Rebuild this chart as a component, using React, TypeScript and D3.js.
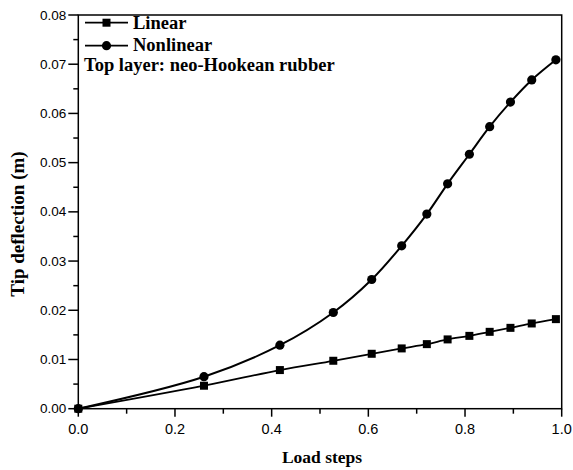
import React from "react";
import * as d3 from "d3";

const loadSteps = [0.0, 0.26, 0.417, 0.5275, 0.607, 0.669, 0.721, 0.764, 0.809, 0.851, 0.894, 0.938, 0.988];
const linearDeflection = [0.0, 0.00467, 0.00785, 0.00974, 0.01116, 0.01225, 0.01312, 0.01408, 0.0148, 0.01562, 0.01643, 0.01732, 0.0182];
const nonlinearLoadSteps = [0.0, 0.26, 0.417, 0.5275, 0.607, 0.669, 0.721, 0.764, 0.809, 0.851, 0.894, 0.938, 0.988];
const nonlinearDeflection = [0.0, 0.0065, 0.0129, 0.01955, 0.02625, 0.0331, 0.03955, 0.0457, 0.0517, 0.0573, 0.0623, 0.0668, 0.0709];
const xTicks = [0, 0.2, 0.4, 0.6, 0.8, 1.0];
const xMinorTicks = [0.1, 0.3, 0.5, 0.7, 0.9];
const yTicks = [0, 0.01, 0.02, 0.03, 0.04, 0.05, 0.06, 0.07, 0.08];
const yMinorTicks = [0.005, 0.015, 0.025, 0.035, 0.045, 0.055, 0.065, 0.075];

const W = 573, H = 470;
const L = 78.3, R = 561.7, T = 15, B = 408.7;

export default function App() {
  const x = d3.scaleLinear().domain([0, 1]).range([L, R]);
  const y = d3.scaleLinear().domain([0, 0.08]).range([B, T]);
  const line = d3.line<[number, number]>().x(d => x(d[0])).y(d => y(d[1])).curve(d3.curveCatmullRom.alpha(0.5));
  const linPts: [number, number][] = loadSteps.map((s, i) => [s, linearDeflection[i]]);
  const nonPts: [number, number][] = nonlinearLoadSteps.map((s, i) => [s, nonlinearDeflection[i]]);
  const sans = "'Liberation Sans', Arial, sans-serif";
  const serif = "'Liberation Serif', 'Times New Roman', serif";
  return (
    <svg width={W} height={H} style={{ position: "absolute", left: 0, top: 0, background: "#fff" }}>
      <rect x={0} y={0} width={W} height={H} fill="#fff" />
      {/* curves */}
      <path d={line(nonPts) || ""} fill="none" stroke="#000" strokeWidth={2} />
      <path d={line(linPts) || ""} fill="none" stroke="#000" strokeWidth={1.8} />
      {nonPts.map((p, i) => (
        <circle key={"c" + i} cx={x(p[0])} cy={y(p[1])} r={4.6} fill="#000" />
      ))}
      {linPts.map((p, i) => (
        <rect key={"s" + i} x={x(p[0]) - 4} y={y(p[1]) - 4} width={8} height={8} fill="#000" />
      ))}
      {/* frame */}
      <rect x={L} y={T} width={R - L} height={B - T} fill="none" stroke="#000" strokeWidth={1.5} />
      {/* x ticks */}
      {xTicks.map(t => (
        <g key={"xt" + t}>
          <line x1={x(t)} x2={x(t)} y1={B} y2={B + 8} stroke="#000" strokeWidth={1.5} />
          <text x={x(t)} y={B + 25} textAnchor="middle" fontFamily={sans} fontSize={14.5}>{t.toFixed(1)}</text>
        </g>
      ))}
      {xMinorTicks.map(t => (
        <line key={"xm" + t} x1={x(t)} x2={x(t)} y1={B} y2={B + 5} stroke="#000" strokeWidth={1.5} />
      ))}
      {/* y ticks */}
      {yTicks.map(t => (
        <g key={"yt" + t}>
          <line x1={L - 10} x2={L} y1={y(t)} y2={y(t)} stroke="#000" strokeWidth={1.5} />
          <text x={L - 12} y={y(t) + 4.5} textAnchor="end" fontFamily={sans} fontSize={13.5}>{t.toFixed(2)}</text>
        </g>
      ))}
      {yMinorTicks.map(t => (
        <line key={"ym" + t} x1={L - 5} x2={L} y1={y(t)} y2={y(t)} stroke="#000" strokeWidth={1.5} />
      ))}
      {/* axis titles */}
      <text x={322} y={463} textAnchor="middle" fontFamily={serif} fontWeight="bold" fontSize={17.5}>Load steps</text>
      <text transform={`translate(24,224) rotate(-90)`} textAnchor="middle" fontFamily={serif} fontWeight="bold" fontSize={19}>Tip deflection (m)</text>
      {/* legend */}
      <g>
        <line x1={85} x2={128} y1={22.7} y2={22.7} stroke="#000" strokeWidth={1.8} />
        <rect x={106.5 - 4} y={22.7 - 4} width={8} height={8} fill="#000" />
        <text x={133} y={28.5} fontFamily={serif} fontWeight="bold" fontSize={18.5}>Linear</text>
        <line x1={85} x2={128} y1={45.7} y2={45.7} stroke="#000" strokeWidth={1.8} />
        <circle cx={106.5} cy={45.7} r={4.6} fill="#000" />
        <text x={133} y={51.2} fontFamily={serif} fontWeight="bold" fontSize={18.5}>Nonlinear</text>
        <text x={84} y={70.5} fontFamily={serif} fontWeight="bold" fontSize={18.5}>Top layer: neo-Hookean rubber</text>
      </g>
    </svg>
  );
}
